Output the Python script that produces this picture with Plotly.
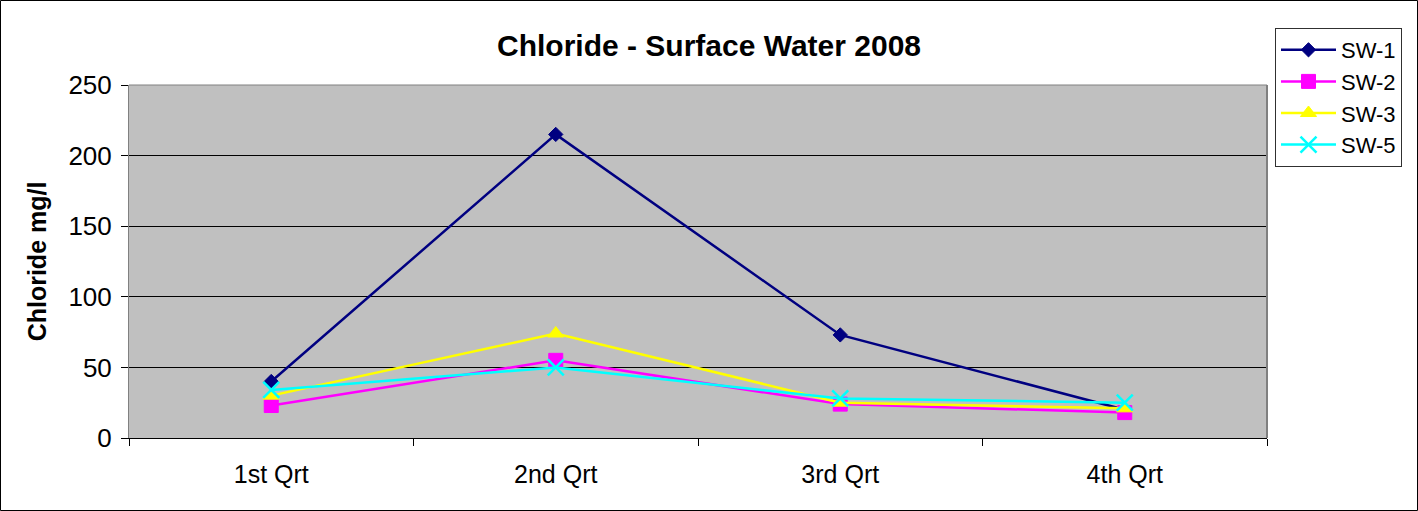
import plotly.graph_objects as go

quarters = ["1st Qrt", "2nd Qrt", "3rd Qrt", "4th Qrt"]
sw1 = [40, 215, 73, 20]
sw2 = [23, 55, 24, 18]
sw3 = [30, 74, 25, 21]
sw5 = [34, 50, 28, 25]

W, H = 1418, 511
L, R, T, B = 129, 151, 85, 73
pw, ph = W - L - R, H - T - B

series = [
    ("SW-1", sw1, "#000080", "diamond", 11, 1),
    ("SW-2", sw2, "#FF00FF", "square", 14, 1),
    ("SW-3", sw3, "#FFFF00", "triangle-up", 14, 1),
    ("SW-5", sw5, "#00FFFF", "x-thin-open", 16, 2.5),
]

fig = go.Figure()
for name, vals, col, sym, sz, lw in series:
    fig.add_trace(go.Scatter(
        x=quarters, y=vals, name=name, mode="lines+markers", legendgroup=name,
        line=dict(color=col, width=2.5),
        marker=dict(symbol=sym, size=sz, color=col, line=dict(color=col, width=lw)),
    ))

def px2paper_x(px):
    return (px - L) / pw

def px2paper_y(py):
    return (H - B - py) / ph

fig.update_layout(
    width=W, height=H,
    margin=dict(l=L, r=R, t=T, b=B),
    paper_bgcolor="white",
    plot_bgcolor="#C0C0C0",
    font=dict(family="Liberation Sans, Arial", color="black"),
    title=dict(text="<b>Chloride - Surface Water 2008</b>", xref="container", x=0.5,
               xanchor="center", y=1 - 45 / H, yanchor="middle", font=dict(size=30)),
    showlegend=True,
    legend=dict(x=px2paper_x(1275), y=px2paper_y(28), xanchor="left", yanchor="top",
                bgcolor="white", bordercolor="#303030", borderwidth=1,
                font=dict(size=22), tracegroupgap=0, itemwidth=55),
    xaxis=dict(type="category", range=[-0.5, 3.5], tickson="boundaries",
               ticks="outside", ticklen=7, tickcolor="black", ticklabelstandoff=14,
               showline=True, linecolor="black", linewidth=1,
               showgrid=False, tickfont=dict(size=25), zeroline=False),
    yaxis=dict(range=[0, 250], dtick=50, ticks="outside", ticklen=7,
               tickcolor="black", showline=True, linecolor="#808080", linewidth=1,
               showgrid=True, gridcolor="black", gridwidth=1, zeroline=False,
               tickfont=dict(size=26), ticklabelstandoff=4,
               title=dict(text="<b>Chloride mg/l</b>", font=dict(size=25), standoff=14)),
    shapes=[
        dict(type="rect", xref="paper", yref="paper",
             x0=px2paper_x(0.5), x1=px2paper_x(W - 0.5),
             y0=px2paper_y(H - 0.5), y1=px2paper_y(0.5),
             line=dict(color="black", width=1), fillcolor="rgba(0,0,0,0)", layer="below"),
        dict(type="line", xref="paper", yref="paper", x0=1, x1=1, y0=0, y1=1,
             line=dict(color="#808080", width=2)),
        dict(type="line", xref="paper", yref="paper", x0=0, x1=1, y0=1, y1=1,
             line=dict(color="#808080", width=1)),
    ],
)

fig.write_html("out.html", config={"displayModeBar": False},
               post_script="document.body.style.margin='0';document.body.style.overflow='hidden';")
